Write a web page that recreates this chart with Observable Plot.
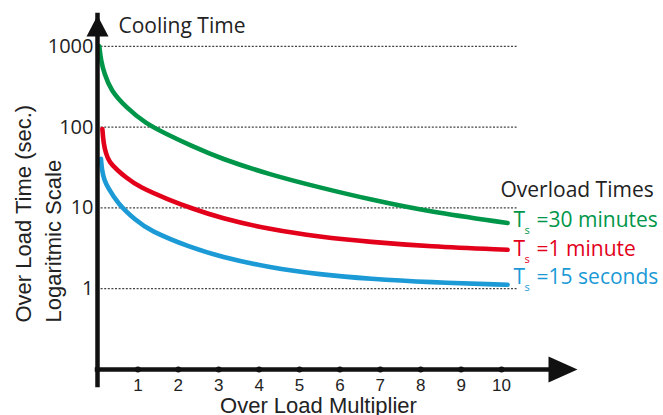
<!DOCTYPE html>
<html><head><meta charset="utf-8">
<script src="https://cdn.jsdelivr.net/npm/d3@7"></script>
<script src="https://cdn.jsdelivr.net/npm/@observablehq/plot@0.6"></script>
<style>html,body{margin:0;padding:0;background:#fff;overflow:hidden} svg{display:block}</style>
</head><body><div id="chart"></div>
<script>
// ---- data ----
const seriesNames = ["30 minutes", "1 minute", "15 seconds"];
const seriesLabels = ["=30 minutes", "=1 minute", "=15 seconds"];
const seriesColors = ["#00964a", "#e2001a", "#1b9ad6"];

const multiplier30min = [0.045, 0.085, 0.17, 0.33, 0.7, 1.2, 1.69, 2.3, 3.04, 4.27, 5.5, 6.75, 8.2, 10.15];
const time30min       = [1000, 670, 458, 285, 177, 110, 83, 59.2, 41, 25.8, 17.9, 12.7, 9.0, 6.5];

const multiplier1min = [0.12, 0.15, 0.21, 0.29, 0.5, 0.7, 1.03, 1.77, 2.3, 3.04, 4.27, 5.5, 6.75, 8.2, 10.15];
const time1min       = [95, 62.5, 47, 36.9, 29.1, 24, 18.1, 12.6, 10, 7.5, 5.41, 4.38, 3.79, 3.34, 3.03];

const multiplier15s = [0.085, 0.11, 0.17, 0.25, 0.5, 0.95, 1.28, 2.3, 3.04, 4.27, 5.5, 6.75, 8.2, 10.15];
const time15s       = [40.6, 29, 22, 18.1, 11.3, 7.0, 5.27, 3.24, 2.5, 1.82, 1.5, 1.32, 1.2, 1.12];

const xTicks = [1, 2, 3, 4, 5, 6, 7, 8, 9, 10];
const yTicks = [1, 10, 100, 1000];
const yTickLabels = ["1", "10", "100", "1000"];

const titleText = "Cooling Time";
const legendTitle = "Overload Times";
const xLabel = "Over Load Multiplier";
const yLabel1 = "Over Load Time (sec.)";
const yLabel2 = "Logaritmic Scale";

// ---- build rows ----
const seriesX = [multiplier30min, multiplier1min, multiplier15s];
const seriesY = [time30min, time1min, time15s];
const rows = seriesNames.flatMap((s, i) => seriesX[i].map((x, j) => ({series: s, x, y: seriesY[i][j]})));
const lastRows = seriesNames.map((s, i) => ({
  series: s, label: seriesLabels[i],
  x: seriesX[i][seriesX[i].length - 1], y: seriesY[i][seriesY[i].length - 1]
}));

// ---- layout ----
const xDomain = [0, 11.88];
const yDomain = [0.1, 2410];
const gridEnd = 10.4;
const labelDy = [-2.5, -0.5, -7.5];

const arrowUp = {draw(ctx) { ctx.moveTo(0, 0); ctx.lineTo(11, 21); ctx.lineTo(-11, 21); ctx.closePath(); }};
const arrowRight = {draw(ctx) { ctx.moveTo(0, 0); ctx.lineTo(-29, -13); ctx.lineTo(-29, 13); ctx.closePath(); }};

const sans = "Open Sans";
const arial = "Liberation Sans, Arial, sans-serif";

const labelMarks = lastRows.flatMap((r, i) => [
  Plot.text([r], {x: "x", y: "y", text: () => "T", dx: 6, dy: labelDy[i], textAnchor: "start", lineAnchor: "middle",
    fill: seriesColors[i], fontSize: 21, fontFamily: sans}),
  Plot.text([r], {x: "x", y: "y", text: () => "s", dx: 17, dy: labelDy[i] + 10, textAnchor: "start", lineAnchor: "middle",
    fill: seriesColors[i], fontSize: 11, fontFamily: sans}),
  Plot.text([r], {x: "x", y: "y", text: "label", dx: 29, dy: labelDy[i], textAnchor: "start", lineAnchor: "middle",
    fill: seriesColors[i], fontSize: 21, fontFamily: sans})
]);

const chart = Plot.plot({
  width: 663, height: 415,
  marginLeft: 97, marginRight: 86, marginTop: 15, marginBottom: 46,
  x: {domain: xDomain, axis: null},
  y: {type: "log", domain: yDomain, axis: null},
  color: {domain: seriesNames, range: seriesColors},
  style: {fontFamily: arial, background: "#fff", overflow: "visible"},
  marks: [
    Plot.ruleY(yTicks, {y: d => d, x1: 0, x2: gridEnd, stroke: "#444", strokeWidth: 1.3, strokeDasharray: "2,1.6"}),
    Plot.line(rows, {x: "x", y: "y", z: "series", stroke: "series", strokeWidth: 4.6, curve: "basis"}),
    Plot.ruleX([0], {x: d => d, y1: yDomain[0], y2: yDomain[1], insetTop: 16, stroke: "#111", strokeWidth: 4.5, strokeLinecap: "square"}),
    Plot.ruleY([yDomain[0]], {y: d => d, x1: 0, x2: xDomain[1], insetRight: 20, stroke: "#111", strokeWidth: 4.5, strokeLinecap: "square"}),
    Plot.dot([0], {x: d => d, y: () => yDomain[1], symbol: arrowUp, fill: "#111", stroke: null}),
    Plot.dot([0], {x: () => xDomain[1], y: () => yDomain[0], symbol: arrowRight, fill: "#111", stroke: null}),
    Plot.dot(xTicks, {x: d => d, y: () => yDomain[0], r: 3, fill: "#111"}),
    Plot.text(yTicks, {x: () => 0, y: d => d, text: (d, i) => yTickLabels[i], textAnchor: "end", lineAnchor: "middle", dx: -4,
      fontSize: 20, fontFamily: sans, fill: "#222"}),
    Plot.text(xTicks, {x: d => d, y: () => yDomain[0], text: d => String(d), dy: 16, lineAnchor: "middle",
      fontSize: 17, fontFamily: arial, fill: "#222"}),
    Plot.text([xLabel], {frameAnchor: "bottom-left", lineAnchor: "middle", text: d => d, dx: 221, dy: 36, textAnchor: "middle",
      fontSize: 22, fontFamily: arial, fill: "#222"}),
    Plot.text([yLabel1], {frameAnchor: "bottom-left", lineAnchor: "middle", text: d => d, dx: -74, dy: -47, rotate: -90, textAnchor: "start",
      fontSize: 22, fontFamily: arial, fill: "#222"}),
    Plot.text([yLabel2], {frameAnchor: "bottom-left", lineAnchor: "middle", text: d => d, dx: -44, dy: -47, rotate: -90, textAnchor: "start",
      fontSize: 22, fontFamily: arial, fill: "#222"}),
    Plot.text([titleText], {frameAnchor: "top-left", lineAnchor: "middle", text: d => d, dx: 21, dy: 11, textAnchor: "start",
      fontSize: 21, fontFamily: sans, fill: "#222"}),
    Plot.text([legendTitle], {frameAnchor: "top-left", lineAnchor: "middle", text: d => d, dx: 403, dy: 175, textAnchor: "start",
      fontSize: 21, fontFamily: sans, fill: "#222"}),
    ...labelMarks
  ]
});
document.getElementById("chart").appendChild(chart);
</script>
</body></html>
